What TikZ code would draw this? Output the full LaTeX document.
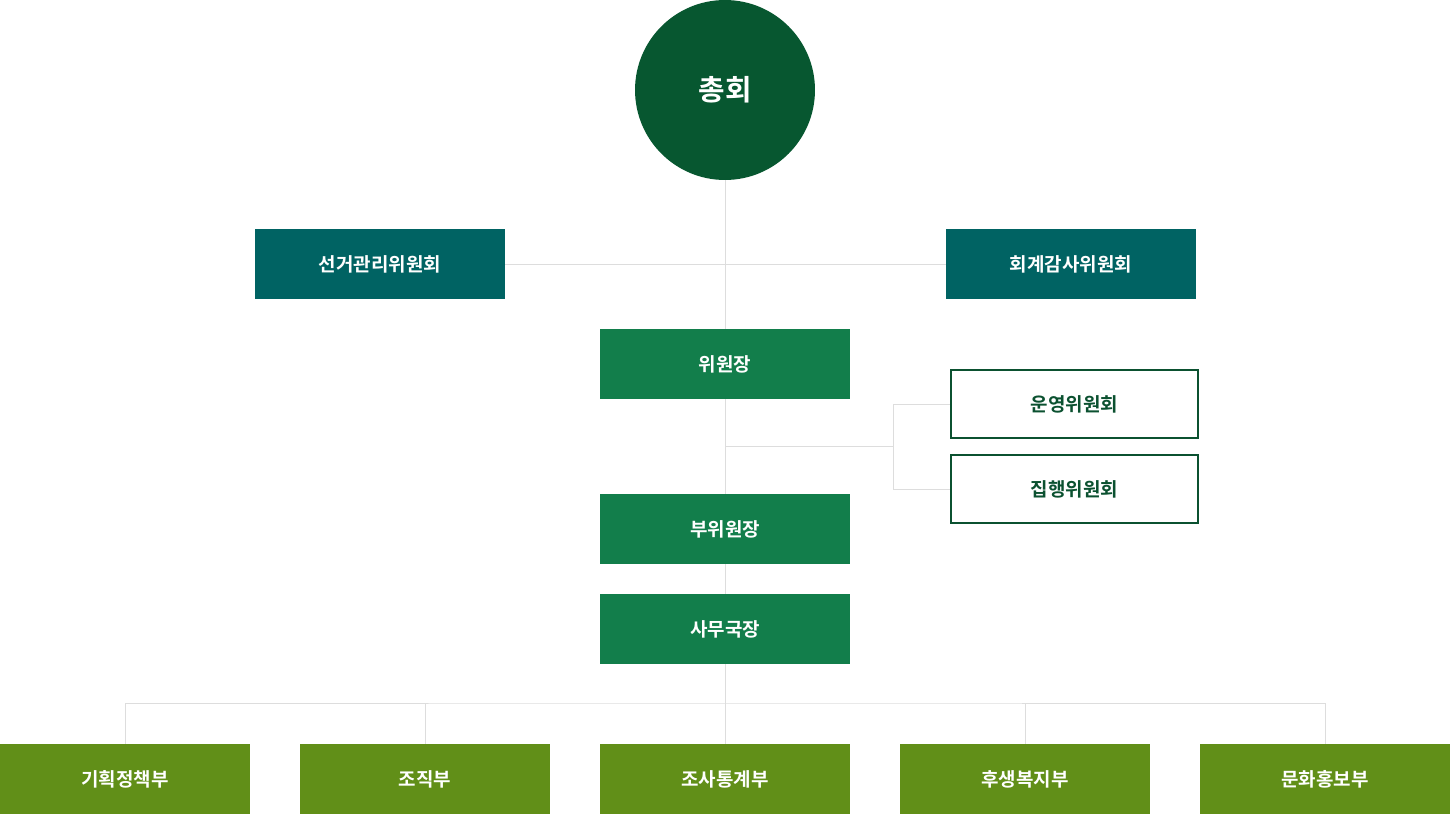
\documentclass[tikz,border=0pt]{standalone}
\usepackage{fontspec}
\setmainfont{Noto Sans CJK KR}[BoldFont={* Bold}]
\definecolor{circlegreen}{HTML}{075730}
\definecolor{teal}{HTML}{006363}
\definecolor{midgreen}{HTML}{127E4B}
\definecolor{olive}{HTML}{618F18}
\definecolor{darkline}{HTML}{0B5130}
\definecolor{linegray}{HTML}{DDDDDD}
\begin{document}
\begin{tikzpicture}[x=0.02cm, y=-0.02cm,
    box/.style={rectangle, minimum width=5cm, minimum height=1.4cm, inner sep=0pt, text=white, font=\fontsize{10.8pt}{12pt}\selectfont\bfseries},
    committee/.style={box, fill=teal},
    chair/.style={box, fill=midgreen},
    dept/.style={box, fill=olive},
    council/.style={box, draw=darkline, line width=0.04cm, fill=white, text=darkline, minimum width=4.96cm, minimum height=1.36cm},
    link/.style={draw=linegray, line width=0.02cm}]
    \useasboundingbox (0,0) rectangle (1450,814);
    \coordinate (mid) at (725,446);
    \coordinate (fork) at (893,446);
    \coordinate (bar) at (725,703);
    \node[circle, fill=circlegreen, minimum size=3.6cm, inner sep=0pt, text=white, font=\fontsize{16.4pt}{18pt}\selectfont\bfseries] (assembly) at (725,90) {총회};
    \node[committee] (election) at (380,264) {선거관리위원회};
    \node[committee] (audit) at (1071,264) {회계감사위원회};
    \node[chair] (chairman) at (725,364) {위원장};
    \node[council] (steering) at (1074.5,404) {운영위원회};
    \node[council] (executive) at (1074.5,489) {집행위원회};
    \node[chair] (vice) at (725,529) {부위원장};
    \node[chair] (secretary) at (725,629) {사무국장};
    \node[dept] (planning) at (125,779) {기획정책부};
    \node[dept] (organize) at (425,779) {조직부};
    \node[dept] (research) at (725,779) {조사통계부};
    \node[dept] (welfare) at (1025,779) {후생복지부};
    \node[dept] (culture) at (1325,779) {문화홍보부};
    % connectors
    \draw[link] (assembly.south) -- (chairman.north);
    \draw[link] (election.east) -- (audit.west);
    \draw[link] (chairman.south) -- (vice.north);
    \draw[link] (vice.south) -- (secretary.north);
    \draw[link] (mid) -- (fork);
    \draw[link] (steering.west) -| (fork) |- (executive.west);
    \draw[link] (secretary.south) -- (bar);
    \draw[link] (planning.north) |- (bar) -| (culture.north);
    \draw[link] (organize.north) -- (organize.north |- bar);
    \draw[link] (research.north) -- (bar);
    \draw[link] (welfare.north) -- (welfare.north |- bar);
\end{tikzpicture}
\end{document}
